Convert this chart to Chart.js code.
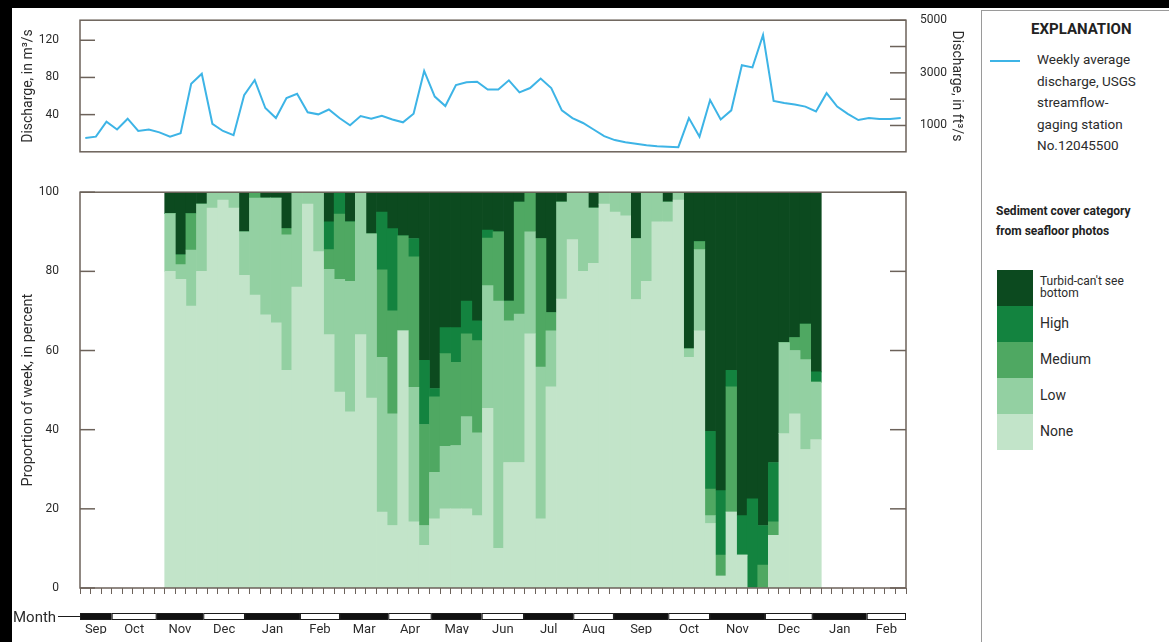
<!DOCTYPE html>
<html>
<head>
<meta charset="utf-8">
<script src="https://cdn.jsdelivr.net/npm/chart.js@4.4.1/dist/chart.umd.min.js"></script>
<style>
  html, body { margin: 0; padding: 0; background: #000; }
  body { width: 1169px; height: 642px; overflow: hidden; position: relative;
         font-family: Roboto, "Liberation Sans", sans-serif; color: #2b2b2b; }
  #sheet { position: absolute; left: 12px; top: 8px; width: 1157px; height: 634px; background: #fff; }
  .abs { position: absolute; }
  #legend { left: 981px; top: 10px; width: 210px; height: 650px; border: 1.5px solid #9a9a9a; border-right: none; }
  .sw { position: absolute; left: 997px; width: 36px; height: 36px; }
  .lab { position: absolute; left: 1040px; font-size: 14px; line-height: 16px; }
</style>
</head>
<body>
<div id="sheet"></div>
<canvas id="dischargeChart" class="abs" width="980" height="172" style="left:0;top:0"></canvas>
<canvas id="sedimentChart" class="abs" width="980" height="470" style="left:0;top:172px"></canvas>

<div class="abs" style="left:13px;top:608px;font-size:15px;">Month</div>

<div id="legend" class="abs"></div>
<div class="abs" style="left:1031px;top:20px;font-size:15px;font-weight:bold;color:#222;">EXPLANATION</div>
<div class="abs" style="left:990px;top:60px;width:30px;height:2px;background:#3db4e6;"></div>
<div class="abs" style="left:1037px;top:49px;font-size:13.5px;line-height:21.5px;">Weekly average<br>discharge, USGS<br>streamflow-<br>gaging station<br>No.12045500</div>
<div class="abs" style="left:996px;top:201px;font-size:12px;line-height:20px;font-weight:bold;color:#222;">Sediment cover category<br>from seafloor photos</div>
<div class="sw" style="top:270px;background:#0c4a1f"></div>
<div class="sw" style="top:306px;background:#13833f"></div>
<div class="sw" style="top:342px;background:#4fa862"></div>
<div class="sw" style="top:378px;background:#93d0a2"></div>
<div class="sw" style="top:414px;background:#c2e4c9"></div>
<div class="lab" style="top:275px;font-size:12px;line-height:12px;">Turbid-can't see<br>bottom</div>
<div class="lab" style="top:315px;">High</div>
<div class="lab" style="top:351px;">Medium</div>
<div class="lab" style="top:387px;">Low</div>
<div class="lab" style="top:423px;">None</div>

<script>
// weekly average discharge, m3/s
const discharge = [14.8, 16.3, 32.3, 24, 35.6, 22.4, 24, 20.9, 16.3, 20,
  73.2, 84, 30.1, 22.4, 17.8, 60.9, 77.2, 47.1, 36.3, 57.8,
  62.4, 42.5, 40.3, 45.5, 36.3, 28.6, 38.4, 35.6, 38.7, 34.7,
  31.7, 40.9, 87, 59.4, 49.2, 71.7, 74.8, 75.3, 67, 67,
  76.9, 64, 68.6, 78.8, 68.6, 44.6, 36.3, 31, 24, 16.9,
  12.6, 10.2, 8.6, 7, 6, 5.5, 5, 36.3, 16.3, 55.7,
  34.7, 44.6, 93.2, 90.8, 125.6, 54.8, 52.6, 50.8, 48.6, 43.4,
  63.1, 48.6, 40.9, 34.2, 36.3, 35.4, 35.4, 36.3];

const _ = null;
// percent of week in each sediment cover category
const coverNone = [_, _, _, _, _, _, _, _,
  80, 78, 71.2, 80, 96, 98, 96, 79, 74, 69,
  67, 55, 76, 97, 85, 64, 49.5, 44.5, 64, 48,
  19.2, 15.8, 65, 16.7, 10.8, 17.5, 20, 20, 20, 18.3,
  45.4, 10, 31.7, 31.7, 64.2, 17.5, 50.8, 73, 88, 80,
  82, 97, 95, 94, 72.9, 77.5, 92.5, 92.5, 98, 58.3,
  65, 16.3, 3, 19.2, 8.3, 0, 0, 13.3, 39, 44,
  35, 37.5, _, _, _, _, _, _, _, _];
const coverLow = [_, _, _, _, _, _, _, _,
  14.6, 3.7, 14.2, 17, 4, 2, 4, 11, 24.5, 29.5,
  31.5, 34.2, 24, 3, 15, 16.5, 28.5, 33, 36, 41.5,
  39.1, 28.2, 0, 34, 5, 11.7, 15.8, 16, 23.3, 20.9,
  31, 62.5, 35.8, 37.5, 25.8, 38.3, 14.2, 24.5, 12, 20,
  14, 3, 5, 6, 15.4, 22.5, 7.5, 5, 2, 2.1,
  20.5, 2, 0, 0, 0, 0, 0, 0, 23, 16,
  22.7, 14.5, _, _, _, _, _, _, _, _];
const coverMedium = [_, _, _, _, _, _, _, _,
  0, 2.5, 9.2, 0, 0, 0, 0, 0, 1.5, 0,
  0, 1.6, 0, 0, 0, 5, 16.5, 15, 0, 0,
  22.1, 26, 24, 33, 25.5, 19.1, 23.4, 21, 20.9, 23.3,
  12, 17.5, 5, 28.3, 10, 32.5, 4.6, 0, 0, 0,
  0, 0, 0, 0, 0, 0, 0, 0, 0, 0,
  2, 6.7, 5.3, 31.6, 0, 0, 5.8, 3.4, 0, 3.3,
  9, 0, _, _, _, _, _, _, _, _];
const coverHigh = [_, _, _, _, _, _, _, _,
  0, 0, 0, 0, 0, 0, 0, 0, 0, 0,
  0, 0, 0, 0, 0, 7, 5.5, 0, 0, 0,
  14.6, 20.8, 0, 4.6, 16.2, 2.1, 6.6, 8.8, 8.3, 5,
  2, 0, 0, 0, 0, 0, 0, 0, 0, 0,
  0, 0, 0, 0, 0, 0, 0, 0, 0, 0,
  0, 14.6, 16.3, 4.2, 10, 22.5, 10, 15, 0, 0,
  0, 2.6, _, _, _, _, _, _, _, _];
const coverTurbid = [_, _, _, _, _, _, _, _,
  5.4, 15.8, 5.4, 3, 0, 0, 0, 10, 0, 1.5,
  1.5, 9.2, 0, 0, 0, 7.5, 0, 7.5, 0, 10.5,
  5, 9.2, 11, 11.7, 42.5, 49.6, 34.2, 34.2, 27.5, 32.5,
  9.6, 10, 27.5, 2.5, 0, 11.7, 30.4, 2.5, 0, 0,
  4, 0, 0, 0, 11.7, 0, 0, 2.5, 0, 39.6,
  12.5, 60.4, 75.4, 45, 81.7, 77.5, 84.2, 68.3, 38, 36.7,
  33.3, 45.4, _, _, _, _, _, _, _, _];

const weeks = discharge.map((v, i) => 'Week ' + (i + 1));
const months = ['Sep', 'Oct', 'Nov', 'Dec', 'Jan', 'Feb', 'Mar', 'Apr', 'May',
  'Jun', 'Jul', 'Aug', 'Sep', 'Oct', 'Nov', 'Dec', 'Jan', 'Feb'];
// month edges, in weeks from the left of the axis
const monthEdges = [0, 2.99, 7.24, 11.64, 15.58, 20.77, 24.55, 29.11, 33.21, 37.93,
  41.93, 46.58, 50.42, 55.55, 59.49, 64.68, 69.19, 74.29, 78];
const dischargeTicks = [40, 80, 120];
const cfsTicks = [1000, 2000, 3000, 4000, 5000];
const percentTicks = [0, 20, 40, 60, 80, 100];

const frameColor = '#6c625a';
const textColor = '#2b2b2b';
Chart.defaults.font.family = 'Roboto, "Liberation Sans", sans-serif';
Chart.defaults.font.size = 12;
Chart.defaults.color = textColor;

const frame = {
  id: 'frame',
  afterDraw(chart) {
    const { ctx, chartArea: a } = chart;
    ctx.save();
    ctx.strokeStyle = frameColor;
    ctx.lineWidth = 1.5;
    ctx.strokeRect(a.left, a.top, a.right - a.left, a.bottom - a.top);
    ctx.restore();
  }
};

function innerTicks(leftId, rightId) {
  return {
    id: 'innerTicks',
    afterDraw(chart) {
      const { ctx, chartArea: a } = chart;
      ctx.save();
      ctx.strokeStyle = frameColor;
      ctx.lineWidth = 1.5;
      [[leftId, a.left, 15], [rightId, a.right, -16]].forEach(([id, x0, len]) => {
        const sc = chart.scales[id];
        sc.ticks.forEach(t => {
          const y = sc.getPixelForValue(t.value);
          ctx.beginPath();
          ctx.moveTo(x0, y);
          ctx.lineTo(x0 + len, y);
          ctx.stroke();
        });
      });
      ctx.restore();
    }
  };
}

const monthBand = {
  id: 'monthBand',
  afterDraw(chart) {
    const sc = chart.scales.xm;
    const ctx = chart.ctx;
    const y = sc.top + 19, h = 7;
    ctx.save();
    ctx.lineWidth = 1;
    ctx.strokeStyle = '#1a1a1a';
    for (let i = 0; i < months.length; i++) {
      const x0 = sc.getPixelForValue(monthEdges[i]);
      const x1 = sc.getPixelForValue(monthEdges[i + 1]);
      ctx.fillStyle = i % 2 === 0 ? '#111' : '#fff';
      ctx.fillRect(x0, y, x1 - x0, h);
      ctx.strokeRect(x0 + 0.5, y + 0.5, x1 - x0 - 1, h - 1);
    }
    ctx.beginPath();
    ctx.moveTo(sc.left - 22, y + h / 2);
    ctx.lineTo(sc.left, y + h / 2);
    ctx.stroke();
    ctx.restore();
  }
};

new Chart(document.getElementById('dischargeChart'), {
  type: 'line',
  data: {
    labels: weeks,
    datasets: [{
      label: 'Weekly average discharge, USGS streamflow-gaging station No.12045500',
      data: discharge,
      borderColor: '#3db4e6',
      borderWidth: 2,
      pointRadius: 0,
      tension: 0,
      yAxisID: 'y'
    }]
  },
  options: {
    responsive: false,
    animation: false,
    layout: { padding: { left: 0, right: 0, top: 11, bottom: 8 } },
    plugins: { legend: { display: false }, tooltip: { enabled: false } },
    scales: {
      x: { type: 'category', offset: true, display: false },
      y: {
        position: 'left', min: 0, max: 5000 / 35.3147,
        afterBuildTicks: s => { s.ticks = dischargeTicks.map(v => ({ value: v })); },
        afterFit: s => { s.width = 80; },
        grid: { display: false }, border: { display: false },
        ticks: { padding: 13 },
        title: { display: true, text: 'Discharge, in m³/s', padding: { top: 20 }, font: { size: 14 } }
      },
      y2: {
        position: 'right', min: 0, max: 5000,
        afterBuildTicks: s => { s.ticks = cfsTicks.map(v => ({ value: v })); },
        afterFit: s => { s.width = 74; },
        grid: { display: false }, border: { display: false },
        ticks: { padding: 6, callback: v => (v % 2000 === 1000 ? String(v) : '') },
        title: { display: true, text: 'Discharge, in ft³/s', padding: { top: 15 }, font: { size: 14 } }
      }
    }
  },
  plugins: [frame, innerTicks('y', 'y2')]
});

const bar = (label, data, color) => ({
  label, data, backgroundColor: color, borderWidth: 0,
  barPercentage: 1, categoryPercentage: 1
});

new Chart(document.getElementById('sedimentChart'), {
  type: 'bar',
  data: {
    labels: weeks,
    datasets: [
      bar('None', coverNone, '#c2e4c9'),
      bar('Low', coverLow, '#93d0a2'),
      bar('Medium', coverMedium, '#4fa862'),
      bar('High', coverHigh, '#13833f'),
      bar("Turbid-can't see bottom", coverTurbid, '#0c4a1f')
    ]
  },
  options: {
    responsive: false,
    animation: false,
    layout: { padding: { left: 0, right: 74, top: 18, bottom: 8 } },
    plugins: { legend: { display: false }, tooltip: { enabled: false } },
    scales: {
      x: {
        type: 'category', stacked: true, offset: true,
        grid: { offset: true, drawOnChartArea: false, drawTicks: true, tickLength: 6, color: frameColor },
        border: { display: false },
        ticks: { display: false },
        afterFit: s => { s.height = 6; }
      },
      xm: {
        type: 'linear', position: 'bottom', min: 0, max: 78, offset: false,
        grid: { display: false }, border: { display: false },
        afterBuildTicks: s => {
          s.ticks = months.map((m, i) => ({ value: (monthEdges[i] + monthEdges[i + 1]) / 2 }));
        },
        ticks: { autoSkip: false, maxRotation: 0, padding: 20, font: { size: 13 }, callback: (v, i) => months[i] },
        afterFit: s => { s.height = 40; }
      },
      y: {
        stacked: true, min: 0, max: 100,
        afterBuildTicks: s => { s.ticks = percentTicks.map(v => ({ value: v })); },
        afterFit: s => { s.width = 80; },
        grid: { display: false }, border: { display: false },
        ticks: { padding: 13 },
        title: { display: true, text: 'Proportion of week, in percent', padding: { top: 20 }, font: { size: 14.5 } }
      }
    }
  },
  plugins: [frame, innerTicks('y', 'y'), monthBand]
});
</script>
</body>
</html>
